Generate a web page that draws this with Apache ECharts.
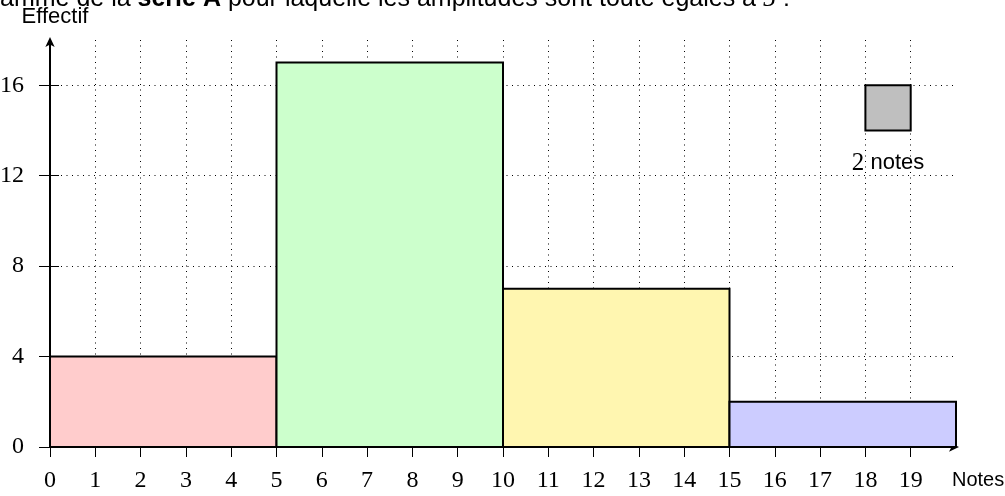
<!DOCTYPE html>
<html>
<head>
<meta charset="utf-8">
<script src="https://cdn.jsdelivr.net/npm/echarts@6/dist/echarts.min.js"></script>
<style>html,body{margin:0;padding:0;background:#fff}#c{width:1005px;height:496px}</style>
</head>
<body>
<div id="c"></div>
<script>
// ---- data ----
var binStarts = [0, 5, 10, 15];
var binEnds = [5, 10, 15, 20];
var counts = [4, 17, 7, 2];
var barColors = ['#ffcccc', '#ccffcc', '#fff6b0', '#ccccff'];
var xTickLabels = [0,1,2,3,4,5,6,7,8,9,10,11,12,13,14,15,16,17,18,19];
var yTickLabels = [0, 4, 8, 12, 16];
var legendBox = [18, 19, 14, 16]; // x0, x1, y0, y1
var legendCount = '2';
var legendUnit = 'notes';
var legendColor = '#bfbfbf';

var SANS = 'Liberation Sans';
var SERIF = 'Liberation Serif';

var barData = binStarts.map(function (s, i) { return [s, binEnds[i], counts[i], i]; });

var chart = echarts.init(document.getElementById('c'), null, {renderer: 'canvas'});
var dotted = {color: '#000', width: 1, type: [1, 4.5]};

var option = {
  animation: false,
  title: {
    text: 'amme de la {b|série A} pour laquelle les amplitudes sont toute égales à {m|5} :',
    left: -5, top: -19,
    textStyle: {
      fontFamily: SANS, fontSize: 25, fontWeight: 'normal', color: '#000',
      rich: {
        b: {fontFamily: SANS, fontSize: 25, fontWeight: 'bold', color: '#000'},
        m: {fontFamily: SERIF, fontSize: 26, fontStyle: 'italic', color: '#000'}
      }
    }
  },
  grid: {left: 50, right: 49, top: 40, bottom: 49, containLabel: false, outerBoundsMode: 'none'},
  xAxis: {
    type: 'value', min: 0, max: 20, interval: 1,
    name: 'Notes', nameLocation: 'end', nameGap: -4,
    nameTextStyle: {fontFamily: SANS, fontSize: 20, color: '#000', align: 'left', verticalAlign: 'top', padding: [23, 0, 0, 0]},
    axisLine: {show: true, onZero: false, lineStyle: {color: '#000', width: 2}, symbol: ['none', 'arrow'], symbolSize: [7, 10], symbolOffset: [0, 3]},
    axisTick: {show: true, length: 10, customValues: xTickLabels, lineStyle: {color: '#000', width: 1}},
    axisLabel: {customValues: xTickLabels, margin: 22, fontFamily: SERIF, fontSize: 24, color: '#000'},
    splitLine: {show: true, lineStyle: dotted}
  },
  yAxis: [{
    type: 'value', min: 0, max: 18, interval: 2,
    name: 'Effectif', nameLocation: 'end', nameGap: 12,
    nameTextStyle: {fontFamily: SANS, fontSize: 22, color: '#000', padding: [0, 0, 0, 10]},
    axisLine: {show: true, onZero: false, lineStyle: {color: '#000', width: 2}, symbol: ['none', 'arrow'], symbolSize: [7, 10], symbolOffset: [0, 3]},
    axisTick: {show: true, length: 11, customValues: yTickLabels, lineStyle: {color: '#000', width: 1}},
    axisLabel: {customValues: yTickLabels, margin: 26, fontFamily: SERIF, fontSize: 24, color: '#000'},
    splitLine: {show: true, lineStyle: dotted}
  }, {
    type: 'value', min: 0, max: 18, interval: 2, position: 'left', offset: 0,
    axisLine: {show: false},
    axisTick: {show: true, inside: true, length: 9, customValues: yTickLabels, lineStyle: {color: '#000', width: 1}},
    axisLabel: {show: false},
    splitLine: {show: false}
  }],
  series: [{
    type: 'custom',
    coordinateSystem: 'cartesian2d',
    encode: {x: [0, 1], y: 2},
    data: barData,
    z: 5,
    renderItem: function (params, api) {
      var p0 = api.coord([api.value(0), api.value(2)]);
      var p1 = api.coord([api.value(1), 0]);
      return {
        type: 'rect',
        shape: {x: p0[0], y: p0[1], width: p1[0] - p0[0], height: p1[1] - p0[1]},
        style: {fill: barColors[api.value(3)], stroke: '#000', lineWidth: 2}
      };
    }
  }, {
    type: 'custom',
    coordinateSystem: 'cartesian2d',
    encode: {x: [0, 1], y: [2, 3]},
    data: [legendBox],
    z: 5,
    renderItem: function (params, api) {
      var p0 = api.coord([api.value(0), api.value(3)]);
      var p1 = api.coord([api.value(1), api.value(2)]);
      var mid = (p0[0] + p1[0]) / 2;
      var h = p1[1] - p0[1];
      return {
        type: 'group',
        children: [{
          type: 'rect',
          shape: {x: p0[0], y: p0[1], width: p1[0] - p0[0], height: h},
          style: {fill: legendColor, stroke: '#000', lineWidth: 2}
        }, {
          type: 'text',
          style: {
            x: mid, y: p1[1] + h * 0.72, text: '{m|' + legendCount + '} ' + legendUnit,
            align: 'center', verticalAlign: 'middle',
            fontFamily: SANS, fontSize: 22, fill: '#000',
            rich: {m: {fontFamily: SERIF, fontSize: 25, fill: '#000'}}
          }
        }]
      };
    }
  }]
};
chart.setOption(option);
</script>
</body>
</html>
